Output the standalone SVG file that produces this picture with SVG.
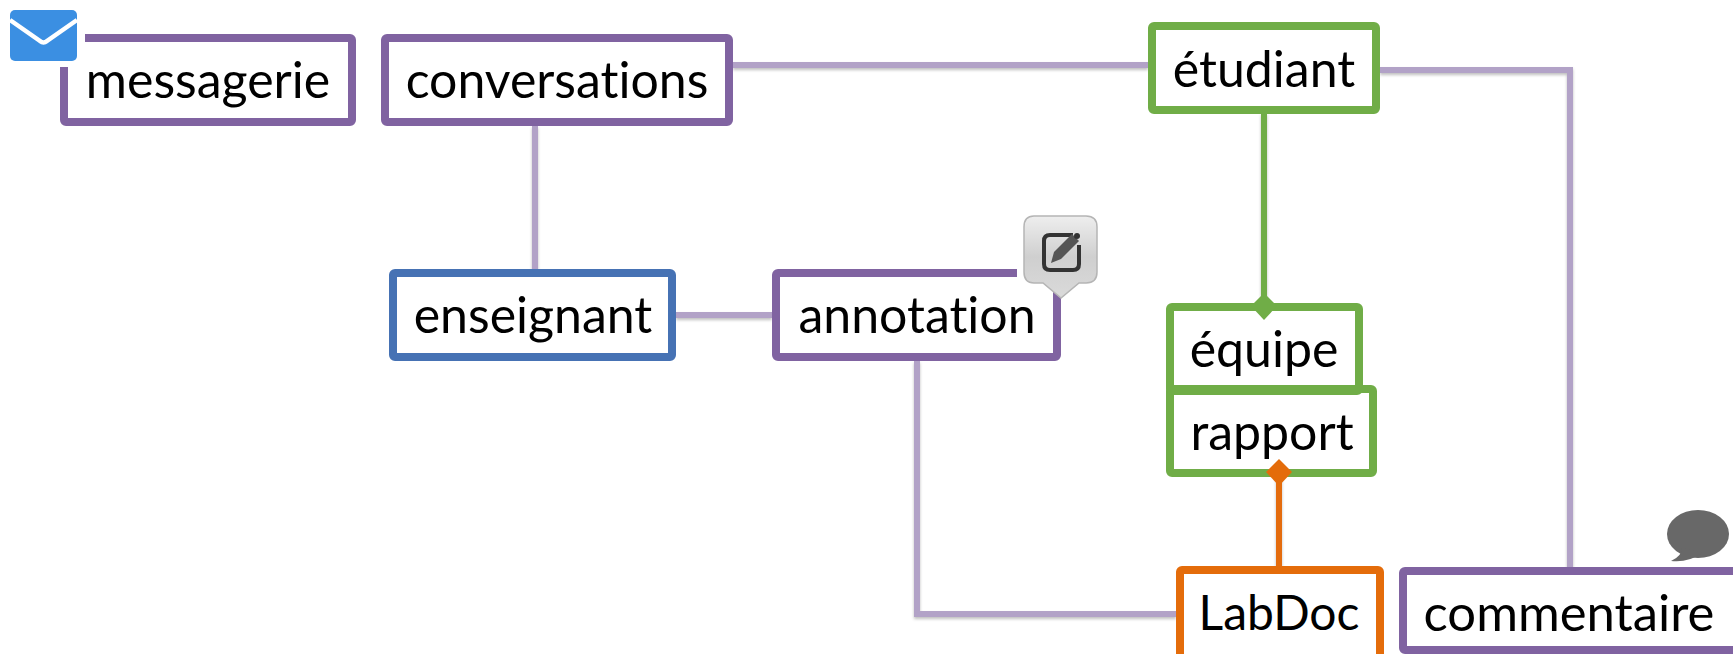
<svg xmlns="http://www.w3.org/2000/svg" width="1733" height="654" viewBox="0 0 1733 654">
<style>
.box{fill:#fff;stroke-width:8;stroke-linejoin:round}
.p{stroke:#8063a1}.g{stroke:#70ad47}.b{stroke:#4672b4}.o{stroke:#e46c0a}
text{font-family:Lato,"Liberation Sans",sans-serif;font-size:50px;fill:#000;text-anchor:middle;font-variant-ligatures:none}
.c{fill:none;stroke:#b2a2c7;stroke-width:6}
</style>
<defs><filter id="s" x="-20%" y="-20%" width="140%" height="140%"><feDropShadow dx="0" dy="2" stdDeviation="1.500" flood-color="#000" flood-opacity=".25"/></filter>
<linearGradient id="eg" x1="0" y1="0" x2="0" y2="1"><stop offset="0" stop-color="#eeeeee"/><stop offset=".5" stop-color="#cfcfcf"/><stop offset="1" stop-color="#dadada"/></linearGradient></defs>
<rect width="1733" height="654" fill="#fff"/>
<g id="connectors" filter="url(#s)">
<path class="c" d="M733 65H1148"/>
<path class="c" d="M535 126V269"/>
<path class="c" d="M1380 70H1570V572"/>
<path class="c" d="M676 315H772"/>
<path class="c" d="M917 361V614H1176"/>
<path d="M1264 113V303" fill="none" stroke="#70ad47" stroke-width="6"/>
<path d="M1279 477V566" fill="none" stroke="#e46c0a" stroke-width="6"/>
</g>
<g id="messagerie"><rect class="box p" x="64" y="38" width="288" height="84" rx="2"/><text x="208" y="98">messagerie</text></g>
<g id="icon-mail"><rect x="5" y="5" width="80" height="62" fill="#fff"/><rect x="10" y="10" width="67" height="51" rx="5" fill="#3b8fe2"/><path d="M10 20L40 41Q43.500 44 47 41L77 20" fill="none" stroke="#fff" stroke-width="4.500"/></g>
<g id="conversations"><rect class="box p" x="385" y="38" width="344" height="84" rx="2"/><text x="557" y="98">conversations</text></g>
<g id="etudiant"><rect class="box g" x="1152" y="26" width="224" height="84" rx="2"/><text x="1264" y="87">étudiant</text></g>
<g id="enseignant"><rect class="box b" x="393" y="273" width="279" height="84" rx="2"/><text x="533" y="333">enseignant</text></g>
<g id="annotation"><rect class="box p" x="776" y="273" width="281" height="84" rx="2"/><text x="917" y="333">annotation</text></g>
<g id="icon-edit"><rect x="1017" y="212" width="85" height="80" fill="#fff"/><path d="M1034 216H1086Q1097 216 1097 227V272Q1097 283 1086 283H1079L1061 298L1043 283H1034Q1024 283 1024 272V227Q1024 216 1034 216Z" fill="url(#eg)" stroke="#b5b5b5" stroke-width="1.500"/><path d="M1073 235H1050Q1044 235 1044 241V264Q1044 270 1050 270H1073Q1079 270 1079 264V245" fill="none" stroke="#333" stroke-width="4"/><path d="M1051 263L1054 252L1072 234L1079 241L1061 259Z" fill="#555"/><circle cx="1077" cy="236" r="3" fill="#333"/></g>
<g id="rapport"><rect class="box g" x="1170" y="389" width="203" height="84" rx="2"/><text x="1272" y="450">rapport</text></g>
<g id="equipe"><rect class="box g" style="fill:none" x="1170" y="307" width="189" height="84" rx="2"/><text x="1264" y="367">équipe</text></g>
<g id="labdoc"><rect class="box o" x="1180" y="570" width="200" height="92" rx="2"/><text x="1279" y="630" style="font-size:48px">LabDoc</text></g>
<g id="commentaire"><rect class="box p" x="1403" y="571" width="340" height="79" rx="2"/><text x="1569" y="631" style="font-size:50.800px">commentaire</text></g>
<g id="icon-comment"><rect x="1660" y="510" width="73" height="57" fill="#fff"/><ellipse cx="1698" cy="534" rx="31" ry="24" fill="#686868"/><path d="M1682 548Q1682 556 1671 561Q1688 563 1702 553Z" fill="#686868"/></g>
<path id="diamond-green" d="M1264 293L1277 306L1264 320L1251 306Z" fill="#70ad47"/>
<path id="diamond-orange" d="M1279 459L1292 472L1279 486L1266 472Z" fill="#e46c0a"/>
</svg>
